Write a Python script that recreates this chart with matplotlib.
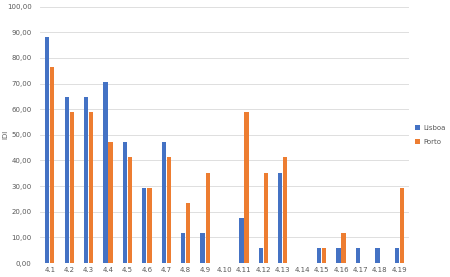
import matplotlib
matplotlib.use("Agg")
import matplotlib.pyplot as plt
import numpy as np

categories = ["4.1", "4.2", "4.3", "4.4", "4.5", "4.6", "4.7", "4.8", "4.9", "4.10",
              "4.11", "4.12", "4.13", "4.14", "4.15", "4.16", "4.17", "4.18", "4.19"]
lisboa = [88.24, 64.71, 64.71, 70.59, 47.06, 29.41, 47.06, 11.76, 11.76, 0.0,
          17.65, 5.88, 35.29, 0.0, 5.88, 5.88, 5.88, 5.88, 5.88]
porto = [76.47, 58.82, 58.82, 47.06, 41.18, 29.41, 41.18, 23.53, 35.29, 0.0,
         58.82, 35.29, 41.18, 0.0, 5.88, 11.76, 0.0, 0.0, 29.41]
y_ticks = [0, 10, 20, 30, 40, 50, 60, 70, 80, 90, 100]

plt.rcParams['font.family'] = ['DejaVu Sans']
fig = plt.figure(figsize=(4.5, 2.77), dpi=100)
ax = fig.add_axes([0.089, 0.0505, 0.82, 0.9255])

x = np.arange(len(categories))
w = 0.22
blue = "#4472C4"
orange = "#ED7D31"
ax.bar(x - 0.13, lisboa, w, color=blue, label="Lisboa", zorder=3)
ax.bar(x + 0.13, porto, w, color=orange, label="Porto", zorder=3)

ax.set_xlim(-0.5, len(categories) - 0.5)
ax.set_ylim(0, 100)
ax.set_yticks(y_ticks)
ax.set_yticklabels([f"{v:.2f}".replace(".", ",") for v in y_ticks])
ax.set_xticks(x)
ax.set_xticklabels(categories)
ax.grid(axis="y", color="#D9D9D9", linewidth=0.6, zorder=0)
for s in ax.spines.values():
    s.set_visible(False)
ax.tick_params(axis="both", length=0, labelsize=5, labelcolor="#595959")
ax.tick_params(axis="y", pad=6)
ax.tick_params(axis="x", pad=3)
ax.set_ylabel("IDI", fontsize=5, color="#595959")
ax.yaxis.set_label_coords(-0.085, 0.5)

leg = ax.legend(loc="center left", bbox_to_anchor=(1.0, 0.5), frameon=False,
                fontsize=5, handlelength=0.7, handleheight=0.7, handletextpad=0.4,
                labelspacing=1.2, labelcolor="#595959")

fig.savefig("out.png", dpi=100)
